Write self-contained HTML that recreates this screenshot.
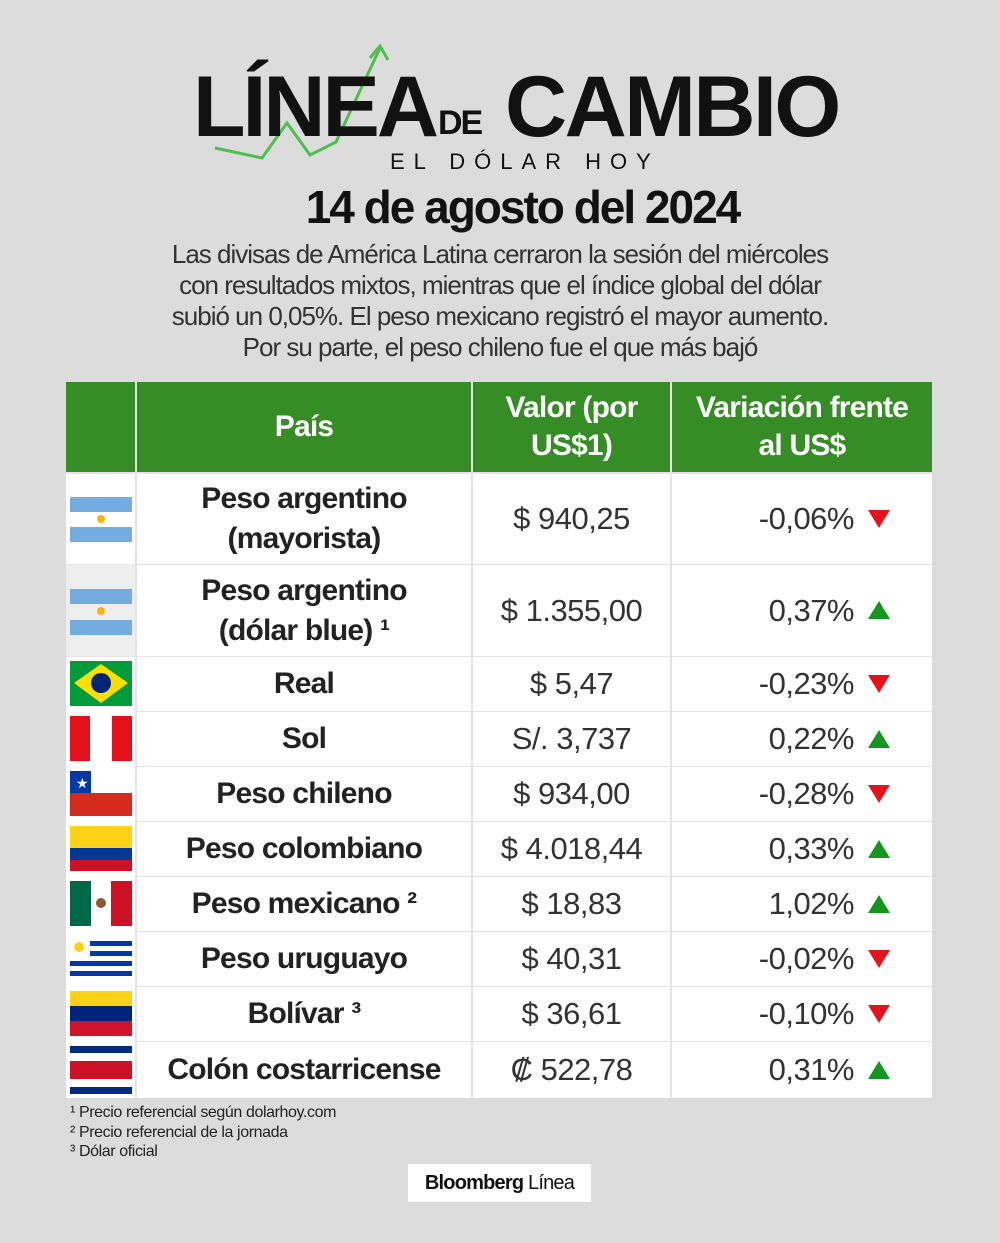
<!DOCTYPE html>
<html><head><meta charset="utf-8"><style>
body{margin:0;width:1000px;height:1243px;background:#dcdcdc;font-family:"Liberation Sans",sans-serif;position:relative;overflow:hidden;color:#222}
.a{position:absolute}
.t{font-weight:bold;color:#111;letter-spacing:-1px}
.sub{font-size:26px;letter-spacing:-1px;text-align:center;width:1000px;left:0;line-height:31px;color:#333}
.cell{position:absolute;background:#fff;display:flex;align-items:center;justify-content:center;text-align:center}
.h{background:#368d26;color:#fff;font-weight:bold;font-size:30px;line-height:38px;letter-spacing:-0.8px}
.c{font-weight:bold;font-size:30px;line-height:40px;letter-spacing:-0.8px;color:#222}
.v{font-size:31px;color:#333;letter-spacing:-0.5px}
.p{font-size:31px;color:#333;justify-content:flex-end;padding-right:78px;box-sizing:border-box;letter-spacing:-0.5px}
.dn,.up{position:absolute;left:868px;width:0;height:0;border-left:11px solid transparent;border-right:11px solid transparent}
.dn{border-top:18px solid #e3141b}
.up{border-bottom:18px solid #16961f}
.fn{font-size:16px;color:#222;left:70px;letter-spacing:-0.4px}
</style></head><body>
<svg class="a" style="left:0;top:0" width="1000" height="200">
<polyline points="215,148 262,158 287,123 310,155 336,142 380,48" fill="none" stroke="#4cc04c" stroke-width="3"/>
<polyline points="370,58 380,46 388,60" fill="none" stroke="#4cc04c" stroke-width="3"/>
</svg>
<div class="a t" style="left:193px;top:64px;font-size:86px;line-height:86px;letter-spacing:-3px">LÍNEA</div>
<div class="a t" style="left:438px;top:106px;font-size:34px;line-height:34px;letter-spacing:-2px">DE</div>
<div class="a t" style="left:505px;top:64px;font-size:86px;line-height:86px;letter-spacing:-2.5px">CAMBIO</div>
<div class="a" style="left:390px;top:149px;font-size:22px;letter-spacing:9px;color:#111">EL DÓLAR HOY</div>
<div class="a t" style="left:0;width:1045px;text-align:center;top:180px;font-size:46px;letter-spacing:-2px">14 de agosto del 2024</div>
<div class="a sub" style="top:239px">Las divisas de América Latina cerraron la sesión del miércoles<br>con resultados mixtos, mientras que el índice global del dólar<br>subió un 0,05%. El peso mexicano registró el mayor aumento.<br>Por su parte, el peso chileno fue el que más bajó</div>

<div class="a" style="left:66px;top:382px;width:866px;height:716px;background:#e4e4e4"></div>
<div class="cell h" style="left:66px;top:382px;width:69px;height:90px"></div>
<div class="cell h" style="left:137px;top:382px;width:334px;height:90px">País</div>
<div class="cell h" style="left:473px;top:382px;width:197px;height:90px">Valor (por<br>US$1)</div>
<div class="cell h" style="left:672px;top:382px;width:260px;height:90px">Variación frente<br>al US$</div>

<div class="cell" style="left:66px;top:474px;width:69px;height:90px"></div>
<div class="cell c" style="left:137px;top:474px;width:334px;height:90px">Peso argentino<br>(mayorista)</div>
<div class="cell v" style="left:473px;top:474px;width:197px;height:90px">$ 940,25</div>
<div class="cell p" style="left:672px;top:474px;width:260px;height:90px">-0,06%</div><div class="dn" style="top:510px"></div>

<div class="cell" style="left:66px;top:565px;width:69px;height:91px;background:#eee"></div>
<div class="cell c" style="left:137px;top:565px;width:334px;height:91px">Peso argentino<br>(dólar blue) ¹</div>
<div class="cell v" style="left:473px;top:565px;width:197px;height:91px">$ 1.355,00</div>
<div class="cell p" style="left:672px;top:565px;width:260px;height:91px">0,37%</div><div class="up" style="top:601px"></div>

<div class="cell c" style="left:137px;top:657px;width:334px;height:54px">Real</div>
<div class="cell v" style="left:473px;top:657px;width:197px;height:54px">$ 5,47</div>
<div class="cell p" style="left:672px;top:657px;width:260px;height:54px">-0,23%</div><div class="dn" style="top:675px"></div>

<div class="cell c" style="left:137px;top:712px;width:334px;height:54px">Sol</div>
<div class="cell v" style="left:473px;top:712px;width:197px;height:54px">S/. 3,737</div>
<div class="cell p" style="left:672px;top:712px;width:260px;height:54px">0,22%</div><div class="up" style="top:730px"></div>

<div class="cell c" style="left:137px;top:767px;width:334px;height:54px">Peso chileno</div>
<div class="cell v" style="left:473px;top:767px;width:197px;height:54px">$ 934,00</div>
<div class="cell p" style="left:672px;top:767px;width:260px;height:54px">-0,28%</div><div class="dn" style="top:785px"></div>

<div class="cell c" style="left:137px;top:822px;width:334px;height:54px">Peso colombiano</div>
<div class="cell v" style="left:473px;top:822px;width:197px;height:54px">$ 4.018,44</div>
<div class="cell p" style="left:672px;top:822px;width:260px;height:54px">0,33%</div><div class="up" style="top:840px"></div>

<div class="cell c" style="left:137px;top:877px;width:334px;height:54px">Peso mexicano ²</div>
<div class="cell v" style="left:473px;top:877px;width:197px;height:54px">$ 18,83</div>
<div class="cell p" style="left:672px;top:877px;width:260px;height:54px">1,02%</div><div class="up" style="top:895px"></div>

<div class="cell c" style="left:137px;top:932px;width:334px;height:54px">Peso uruguayo</div>
<div class="cell v" style="left:473px;top:932px;width:197px;height:54px">$ 40,31</div>
<div class="cell p" style="left:672px;top:932px;width:260px;height:54px">-0,02%</div><div class="dn" style="top:950px"></div>

<div class="cell c" style="left:137px;top:987px;width:334px;height:54px">Bolívar ³</div>
<div class="cell v" style="left:473px;top:987px;width:197px;height:54px">$ 36,61</div>
<div class="cell p" style="left:672px;top:987px;width:260px;height:54px">-0,10%</div><div class="dn" style="top:1005px"></div>

<div class="cell c" style="left:137px;top:1042px;width:334px;height:56px">Colón costarricense</div>
<div class="cell v" style="left:473px;top:1042px;width:197px;height:56px">₡ 522,78</div>
<div class="cell p" style="left:672px;top:1042px;width:260px;height:56px">0,31%</div><div class="up" style="top:1061px"></div>

<svg class="a" style="left:66px;top:474px" width="69" height="624">
<rect x="0" y="0" width="69" height="90" fill="#fff"/>
<rect x="0" y="183" width="69" height="441" fill="#fff"/>
<rect x="4" y="23" width="62" height="15" fill="#74acdf"/><rect x="4" y="53" width="62" height="15" fill="#74acdf"/><circle cx="35" cy="45" r="4" fill="#f6b40e"/>
<rect x="4" y="115" width="62" height="15" fill="#74acdf"/><rect x="4" y="146" width="62" height="15" fill="#74acdf"/><circle cx="35" cy="137" r="4" fill="#f6b40e"/>
<rect x="4" y="187" width="62" height="45" fill="#009b3a"/><polygon points="35,190 62,209 35,229 8,209" fill="#fedf00"/><circle cx="35" cy="209" r="10" fill="#002776"/>
<rect x="4" y="242" width="62" height="45" fill="#fff"/><rect x="4" y="242" width="20" height="45" fill="#e4111b"/><rect x="46" y="242" width="20" height="45" fill="#e4111b"/>
<rect x="4" y="297" width="62" height="22" fill="#fff"/><rect x="4" y="297" width="21" height="22" fill="#0039a6"/><rect x="4" y="319" width="62" height="23" fill="#d52b1e"/><text x="10" y="314" fill="#fff" font-size="14">★</text>
<rect x="4" y="352" width="62" height="22" fill="#fcd116"/><rect x="4" y="374" width="62" height="12" fill="#003893"/><rect x="4" y="386" width="62" height="11" fill="#ce1126"/>
<rect x="4" y="407" width="21" height="45" fill="#006847"/><rect x="25" y="407" width="20" height="45" fill="#fff"/><rect x="45" y="407" width="21" height="45" fill="#ce1126"/><circle cx="35" cy="429" r="5" fill="#8b5a2b"/>
<rect x="4" y="462" width="62" height="45" fill="#fff"/>
<g fill="#0038a8"><rect x="24" y="467" width="42" height="5"/><rect x="24" y="477" width="42" height="5"/><rect x="4" y="487" width="62" height="5"/><rect x="4" y="497" width="62" height="5"/></g><circle cx="13" cy="473" r="5" fill="#fcd116"/>
<rect x="4" y="517" width="62" height="15" fill="#fcd116"/><rect x="4" y="532" width="62" height="15" fill="#00247d"/><rect x="4" y="547" width="62" height="15" fill="#cf142b"/>
<rect x="4" y="572" width="62" height="48" fill="#fff"/><rect x="4" y="572" width="62" height="7" fill="#002b7f"/><rect x="4" y="613" width="62" height="7" fill="#002b7f"/><rect x="4" y="587" width="62" height="18" fill="#ce1126"/>
</svg>

<div class="a fn" style="top:1104px">¹ Precio referencial según dolarhoy.com</div>
<div class="a fn" style="top:1124px">² Precio referencial de la jornada</div>
<div class="a fn" style="top:1143px">³ Dólar oficial</div>
<div class="a" style="left:408px;top:1164px;width:183px;height:38px;background:#fff;font-size:20px;font-weight:bold;display:flex;align-items:center;justify-content:center;letter-spacing:-0.8px;color:#111">Bloomberg&nbsp;<span style="font-weight:normal">Línea</span></div>
</body></html>
